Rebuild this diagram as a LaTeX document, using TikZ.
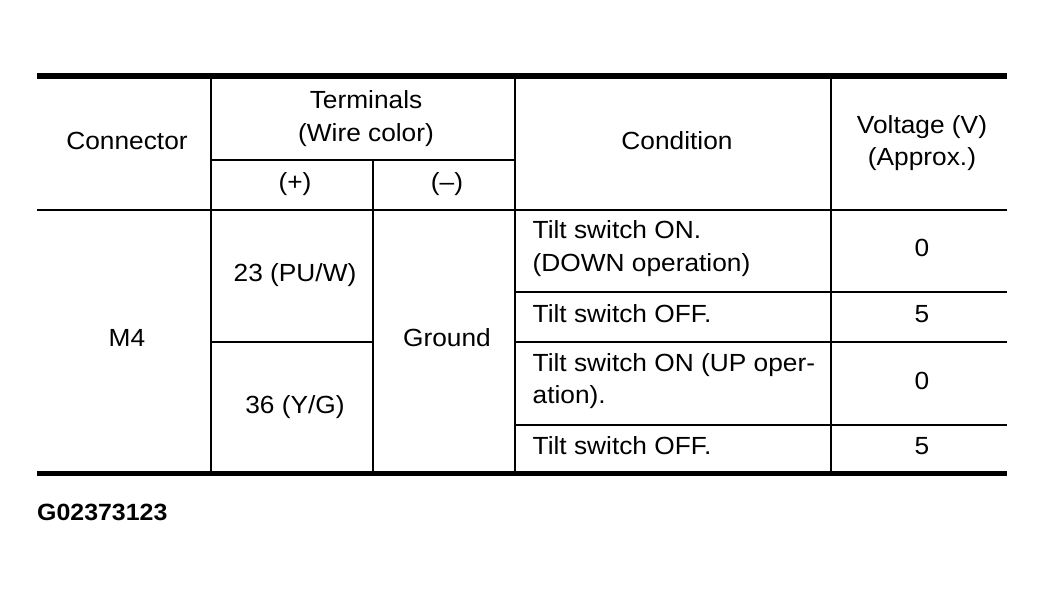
\documentclass[tikz,border=0pt]{standalone}
\usepackage{fontspec}
\setmainfont{Liberation Sans}[FakeStretch=1.06]
\tikzstyle{spec table}=[
    rule/.style={line width=5.5pt},
    sep/.style={line width=2pt},
    cell/.style={font={\fontsize{24.8}{32.5}\selectfont},anchor=base,align=center,inner sep=0pt},
    cond/.style={cell,anchor=base west,align=left},
    code/.style={font={\fontsize{23.5}{30}\selectfont\bfseries},anchor=base west,inner sep=0pt},
]

\begin{document}
\begin{tikzpicture}[spec table, x=1pt, y=-1pt]
    \useasboundingbox (0,0) rectangle (1044,595);
    % rules and grid
    \draw[rule] (37,76) -- (1007,76);
    \draw[rule] (37,473.5) -- (1007,473.5);
    \draw[sep] (37,210) -- (1007,210);
    \foreach \x in {210.5,514.7,830.5}
        \draw[sep] (\x,76) -- (\x,473.5);
    \draw[sep] (373,160) -- (373,473.5);
    \draw[sep] (210.5,160) -- (514.7,160);
    \draw[sep] (210.5,342) -- (373,342);
    \foreach \y in {292,342,425}
        \draw[sep] (514.7,\y) -- (1007,\y);

    % header
    \node[cell] (connector) at (127,149) {Connector};
    \node[cell] (terminals) at (366,141) {Terminals\\(Wire color)};
    \node[cell] (plus) at (295,190) {(+)};
    \node[cell] (minus) at (447,190) {(--)};
    \node[cell] (condition) at (677,149) {Condition};
    \node[cell] (voltage) at (922,165.5) {Voltage (V)\\(Approx.)};

    % body
    \node[cell] (m4) at (127,346) {M4};
    \node[cell] (pin23) at (295,281) {23 (PU/W)};
    \node[cell] (pin36) at (295,413) {36 (Y/G)};
    \node[cell] (ground) at (447,346) {Ground};
    \node[cond] (down on) at (532.5,271) {Tilt switch ON.\\(DOWN operation)};
    \node[cond] (down off) at (532.5,322.7) {Tilt switch OFF.};
    \node[cond] (up on) at (532.5,403.5) {Tilt switch ON (UP oper-\\ation).};
    \node[cond] (up off) at (532.5,454) {Tilt switch OFF.};
    \foreach \n/\v/\y in {v1/0/256,v2/5/322.7,v3/0/389,v4/5/454}
        \node[cell] (\n) at (922,\y) {\v};

    \node[code] (figcode) at (37,520) {G02373123};
\end{tikzpicture}
\end{document}
